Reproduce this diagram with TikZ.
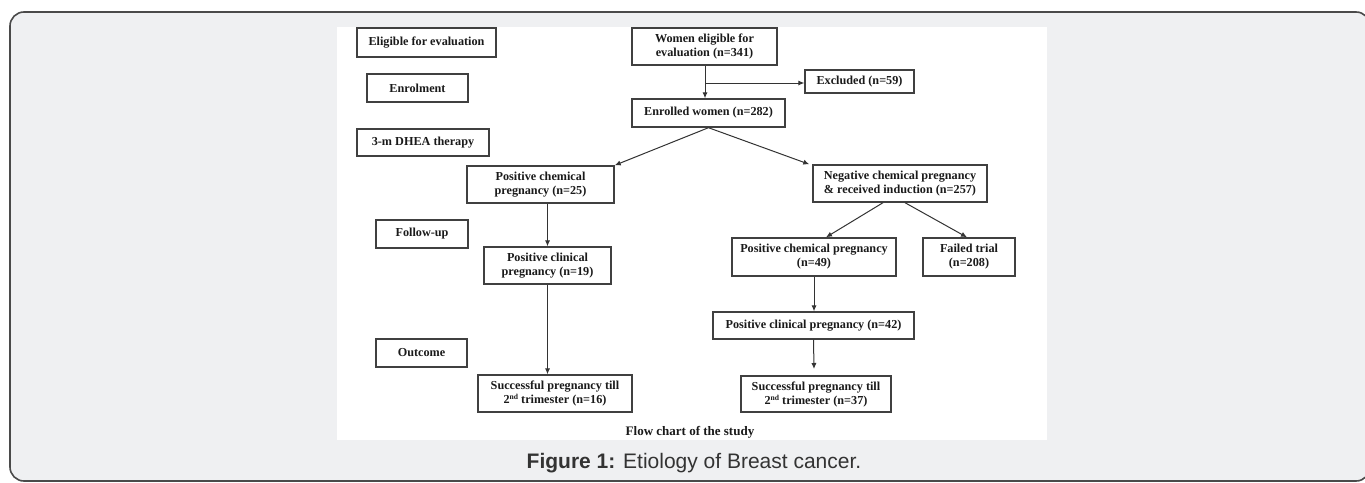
\documentclass[tikz,border=0pt]{standalone}
\usepackage{fontspec}
\usetikzlibrary{arrows.meta,calc}
\newfontfamily\boxfont{Liberation Serif}
\newfontfamily\capfont{Liberation Sans}
\definecolor{bgc}{HTML}{EFF0F2}
\definecolor{framec}{HTML}{4A4A4A}
\definecolor{boxc}{HTML}{404040}
\definecolor{linec}{HTML}{333333}
\definecolor{txtc}{HTML}{1A1A1A}
\definecolor{capc}{HTML}{333333}
\newcommand{\supnd}{\raisebox{1.8pt}{\fontsize{3.8}{4}\selectfont nd}}
\begin{document}
\begin{tikzpicture}[x=0.5pt,y=-0.5pt,
  fbox/.style={draw=boxc,line width=0.7pt,fill=white,inner sep=0pt,align=center,
    font=\boxfont\bfseries\fontsize{6.1}{7}\selectfont,text=txtc},
  arr/.style={draw=linec,line width=0.5pt,-{Latex[length=3pt,width=2.6pt]}},
  panel/.style={fill=white,draw=none}
]
\useasboundingbox (0,0) rectangle (1365,482);
\fill[white] (0,0) rectangle (1365,482);
\draw[fill=bgc,draw=framec,line width=0.8pt,rounded corners=7pt] (10,12) rectangle (1370,481);
\fill[panel] (337,27) rectangle (1047,440);

% stage labels
\node[fbox,minimum width=69.5pt,minimum height=14.5pt] (elig) at (426.5,42.5) {Eligible for evaluation};
\node[fbox,minimum width=50.5pt,minimum height=14pt] (enrol) at (417.5,88) {Enrolment};
\node[fbox,minimum width=66pt,minimum height=13.5pt] (dhea) at (423,142.5) {3-m DHEA therapy};
\node[fbox,minimum width=46pt,minimum height=14pt] (follow) at (422,234) {Follow-up};
\node[fbox,minimum width=45.5pt,minimum height=14pt] (outcome) at (421.5,353) {Outcome};

% flow boxes
\node[fbox,minimum width=72.5pt,minimum height=18.5pt] (women) at (704.5,46.5) {Women eligible for\\evaluation (n=341)};
\node[fbox,minimum width=54.5pt,minimum height=11.5pt] (excl) at (859.5,81.5) {Excluded (n=59)};
\node[fbox,minimum width=76.5pt,minimum height=14pt] (enrolled) at (708.5,113) {Enrolled women (n=282)};
\node[fbox,minimum width=73.5pt,minimum height=18.5pt] (pc25) at (540.5,184.5) {Positive chemical\\pregnancy (n=25)};
\node[fbox,minimum width=87pt,minimum height=18.5pt] (neg) at (900,183.5) {Negative chemical pregnancy\\\& received induction (n=257)};
\node[fbox,minimum width=63.5pt,minimum height=18.5pt] (pcl19) at (547.5,265.5) {Positive clinical\\pregnancy (n=19)};
\node[fbox,minimum width=82pt,minimum height=19pt] (pc49) at (814,257) {Positive chemical pregnancy\\(n=49)};
\node[fbox,minimum width=46pt,minimum height=19pt] (failed) at (969,257) {Failed trial\\(n=208)};
\node[fbox,minimum width=100.5pt,minimum height=13.5pt] (pcl42) at (813.5,325.5) {Positive clinical pregnancy (n=42)};
\node[fbox,minimum width=77pt,minimum height=18.5pt] (s16) at (555,393.5) {Successful pregnancy till\\2\supnd{} trimester (n=16)};
\node[fbox,minimum width=75pt,minimum height=18pt] (s37) at (816,394) {Successful pregnancy till\\2\supnd{} trimester (n=37)};

% texts
\node[font=\boxfont\bfseries\fontsize{6.5}{8}\selectfont,text=txtc] (flow) at (690,432) {Flow chart of the study};
\node[anchor=base,font=\capfont\fontsize{10.5}{12}\selectfont,text=capc] (cap) at (694,468) {\textbf{Figure 1:} Etiology of Breast cancer.};

% connectors
\coordinate (br) at (705,83);
\coordinate (s37end) at (814,369);
\draw[arr] (women.south -| br) -- (br |- enrolled.north);
\draw[arr] (br) -- (br -| excl.west);
\draw[arr] (enrolled.south) -- (pc25.north east);
\draw[arr] (enrolled.south) -- ($(neg.north west)+(-3,0)$);
\draw[arr] (pc25.south -| pcl19.north) -- (pcl19.north);
\draw[arr] (pcl19.south) -- (pcl19.south |- s16.north);
\draw[arr] ($(neg.south)+(-17,0)$) -- ($(pc49.north)+(12,0)$);
\draw[arr] ($(neg.south)+(5,0)$) -- ($(failed.north)+(-2,0)$);
\draw[arr] (pc49.south) -- (pc49.south |- pcl42.north);
\draw[arr] (pcl42.south) -- (s37end);
\end{tikzpicture}
\end{document}
